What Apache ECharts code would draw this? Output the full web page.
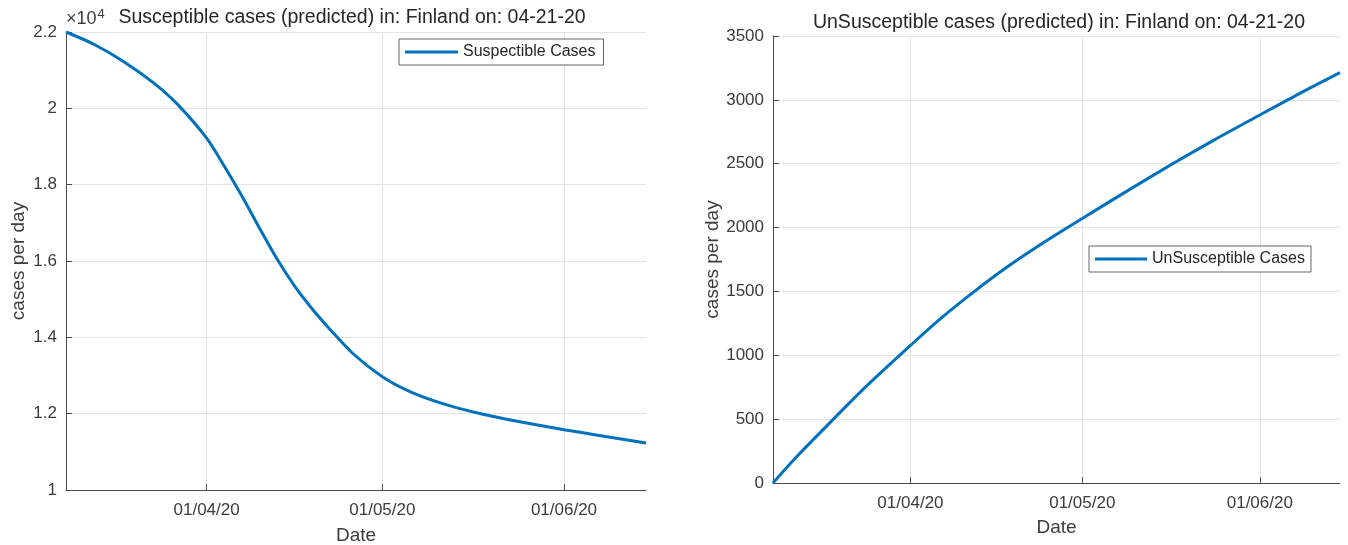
<!DOCTYPE html>
<html>
<head>
<meta charset="utf-8">
<script src="https://cdn.jsdelivr.net/npm/echarts@6/dist/echarts.min.js"></script>
<style>
  html, body { margin: 0; padding: 0; background: #fff; }
  #chart { width: 1348px; height: 545px; }
</style>
</head>
<body>
<div id="chart"></div>
<script>
// ---------- DATA ----------
const suscDates = ['2020-03-08','2020-03-13','2020-03-18','2020-03-23','2020-03-27','2020-04-01','2020-04-04','2020-04-07','2020-04-10','2020-04-13','2020-04-16','2020-04-19','2020-04-22','2020-04-26','2020-05-01','2020-05-06','2020-05-12','2020-05-18','2020-05-24','2020-06-01','2020-06-07','2020-06-15'];
const suscValues = [22000,21660,21210,20660,20110,19220,18490,17710,16870,16060,15350,14750,14220,13570,12970,12560,12230,11990,11800,11580,11430,11230];

const unsuscDates = ['2020-03-08','2020-03-12','2020-03-18','2020-03-24','2020-04-01','2020-04-06','2020-04-12','2020-04-18','2020-04-24','2020-05-01','2020-05-08','2020-05-17','2020-05-24','2020-06-01','2020-06-08','2020-06-15'];
const unsuscValues = [0,200,475,745,1077,1278,1495,1695,1875,2071,2264,2505,2685,2881,3051,3213];

const xMin = '2020-03-08';
const xMax = '2020-06-15';
const leftTitle = 'Susceptible cases (predicted) in: Finland on: 04-21-20';
const rightTitle = 'UnSusceptible cases (predicted) in: Finland on: 04-21-20';
const leftLegend = 'Suspectible Cases';
const rightLegend = 'UnSusceptible Cases';
const yName = 'cases per day';
const xName = 'Date';

// ---------- STYLE ----------
const FONT = '"Liberation Sans", Arial, Helvetica, sans-serif';
const TXT = '#3c3c3c';
const AXIS = '#4a4a4a';
const GRID = '#e3e3e3';
const BLUE = '#0072BD';

function xAxisCfg(gridIndex, gap, margin) {
  return {
    type: 'time', gridIndex: gridIndex,
    min: xMin, max: xMax,
    minInterval: 28 * 86400000,
    name: xName, nameLocation: 'middle', nameGap: gap,
    nameTextStyle: { fontFamily: FONT, fontSize: 19, color: TXT },
    axisLine: { show: true, lineStyle: { color: AXIS, width: 1 } },
    axisTick: { show: true, inside: true, length: 6, lineStyle: { color: AXIS } },
    axisLabel: {
      fontFamily: FONT, fontSize: 17, color: TXT, margin: margin,
      showMinLabel: false, showMaxLabel: false,
      formatter: function (v) { return echarts.time.format(v, '{dd}/{MM}/{yy}', false); }
    },
    splitLine: { show: true, showMinLine: false, showMaxLine: false, lineStyle: { color: GRID, width: 1 } },
    minorTick: { show: false }
  };
}
function yAxisCfg(gridIndex, min, max, interval, fmt, gap) {
  return {
    type: 'value', gridIndex: gridIndex, min: min, max: max, interval: interval,
    name: yName, nameLocation: 'middle', nameGap: gap, nameRotate: 90,
    nameTextStyle: { fontFamily: FONT, fontSize: 19, color: TXT },
    axisLine: { show: true, lineStyle: { color: AXIS, width: 1 } },
    axisTick: { show: true, inside: true, length: 6, lineStyle: { color: AXIS } },
    axisLabel: { fontFamily: FONT, fontSize: 17, color: TXT, margin: 9, formatter: fmt },
    splitLine: { show: true, lineStyle: { color: GRID, width: 1 } }
  };
}

const chart = echarts.init(document.getElementById('chart'), null, { renderer: 'canvas' });
chart.setOption({
  animation: false,
  backgroundColor: '#ffffff',
  title: [
    { text: leftTitle, left: 347, top: 3, textAlign: 'center',
      textStyle: { fontFamily: FONT, fontSize: 19.5, fontWeight: 'normal', color: '#262626' } },
    { text: rightTitle, left: 1054, top: 8, textAlign: 'center',
      textStyle: { fontFamily: FONT, fontSize: 19.5, fontWeight: 'normal', color: '#262626' } }
  ],
  graphic: [
    { type: 'text', left: 66, top: 8,
      style: { text: '×10{s|4}', fontFamily: FONT, fontSize: 18, fill: TXT,
        rich: { s: { fontSize: 13, verticalAlign: 'top', padding: [0, 0, 10, 1], fill: TXT, fontFamily: FONT } } } }
  ],
  grid: [
    { left: 66, top: 32, width: 580, height: 458, outerBoundsMode: 'none', containLabel: false },
    { left: 773, top: 36, width: 567, height: 447, outerBoundsMode: 'none', containLabel: false }
  ],
  legend: [
    { data: [leftLegend], left: 399, top: 39, orient: 'horizontal',
      icon: 'rect', itemWidth: 53, itemHeight: 3, itemGap: 5,
      padding: [5, 8, 5, 6], borderColor: '#666', borderWidth: 1, backgroundColor: '#fff',
      textStyle: { fontFamily: FONT, fontSize: 16, color: '#262626' } },
    { data: [rightLegend], left: 1089, top: 246, orient: 'horizontal',
      icon: 'rect', itemWidth: 52, itemHeight: 3, itemGap: 5,
      padding: [5, 6, 5, 6], borderColor: '#666', borderWidth: 1, backgroundColor: '#fff',
      textStyle: { fontFamily: FONT, fontSize: 16, color: '#262626' } }
  ],
  xAxis: [xAxisCfg(0, 36, 12), xAxisCfg(1, 35, 12)],
  yAxis: [
    yAxisCfg(0, 10000, 22000, 2000, function (v) { return String(+(v / 10000).toFixed(1)); }, 38),
    yAxisCfg(1, 0, 3500, 500, function (v) { return String(v); }, 51)
  ],
  series: [
    { name: leftLegend, type: 'line', xAxisIndex: 0, yAxisIndex: 0,
      data: suscDates.map((d, i) => [d, suscValues[i]]),
      smooth: 0.3, symbol: 'none', showSymbol: false,
      lineStyle: { color: BLUE, width: 3 }, itemStyle: { color: BLUE } },
    { name: rightLegend, type: 'line', xAxisIndex: 1, yAxisIndex: 1,
      data: unsuscDates.map((d, i) => [d, unsuscValues[i]]),
      smooth: 0.3, symbol: 'none', showSymbol: false,
      lineStyle: { color: BLUE, width: 3 }, itemStyle: { color: BLUE } }
  ]
});
</script>
</body>
</html>
